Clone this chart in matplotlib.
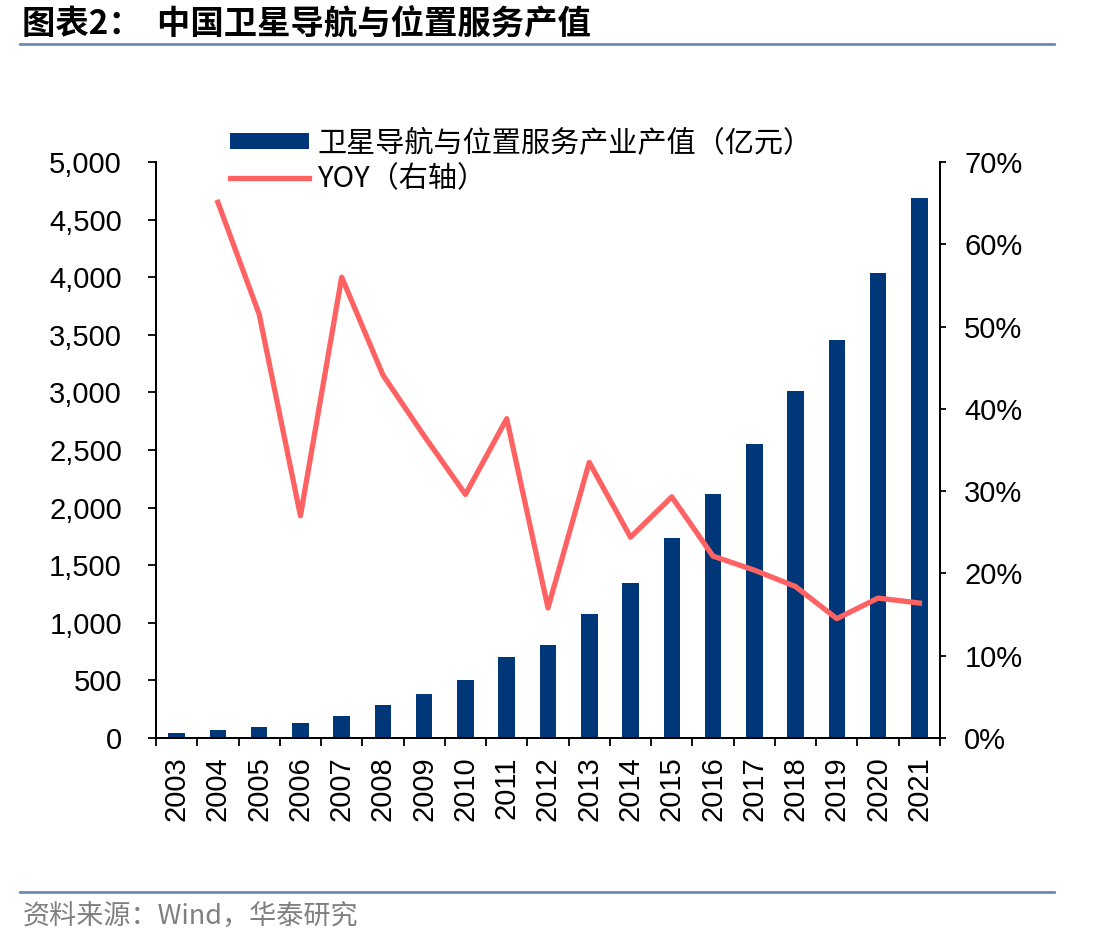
import matplotlib
matplotlib.use("Agg")
import matplotlib.pyplot as plt
from matplotlib.ticker import FuncFormatter, FixedLocator

plt.rcParams['font.family'] = ['Liberation Sans', 'Noto Sans CJK SC', 'DejaVu Sans']

years = [str(y) for y in range(2003, 2022)]
output_value = [39, 65, 97, 126, 195, 282, 386, 505, 699, 809, 1078, 1341, 1732, 2120, 2550, 3012, 3455, 4036, 4690]
yoy_years = years[1:]
yoy = [65.1, 51.5, 27.0, 56.0, 44.1, 36.7, 29.6, 38.8, 15.8, 33.5, 24.4, 29.3, 22.1, 20.4, 18.4, 14.5, 17.0, 16.4]

bar_label = "卫星导航与位置服务产业产值（亿元）"
line_label = "YOY（右轴）"
title = "图表2：  中国卫星导航与位置服务产值"
source = "资料来源：Wind，华泰研究"

bar_color = "#003778"
line_color = "#FF6262"
rule_color = "#6A8BB8"

fig = plt.figure(figsize=(11.12, 9.46), dpi=100)
ax = fig.add_axes([0.1403, 0.2199, 0.7050, 0.6089])
ax2 = ax.twinx()

x = list(range(len(years)))
bars = ax.bar(x, output_value, width=0.4, color=bar_color, label=bar_label, zorder=2)
xi = [years.index(y) for y in yoy_years]
ln, = ax2.plot(xi, yoy, color=line_color, linewidth=3.8, label=line_label, zorder=3)

ax.set_xlim(-0.5, len(years) - 0.5)
ax.set_ylim(0, 5000)
ax.set_yticks(range(0, 5001, 500))
ax.yaxis.set_major_formatter(FuncFormatter(lambda v, p: f"{int(v):,}"))
ax2.set_ylim(0, 70)
ax2.set_yticks(range(0, 71, 10))
ax2.yaxis.set_major_formatter(FuncFormatter(lambda v, p: f"{int(v)}%"))

ax.set_xticks(x)
ax.set_xticklabels(years, rotation=90, fontsize=21)
ax.tick_params(axis='x', which='major', length=0, pad=13)
ax.xaxis.set_minor_locator(FixedLocator([i - 0.5 for i in range(len(years) + 1)]))
ax.tick_params(axis='x', which='minor', length=5.5, width=1.3, direction='out')
ax.tick_params(axis='y', labelsize=21, length=5.5, width=1.3, direction='out', pad=19)
ax2.tick_params(axis='y', labelsize=21, length=4.5, width=1.3, direction='out', pad=13)

for a in (ax, ax2):
    a.spines['top'].set_visible(False)
    for s in ('left', 'right', 'bottom'):
        a.spines[s].set_linewidth(1.3)

ax2.set_zorder(ax.get_zorder() + 1)
ax2.patch.set_visible(False)

fig.legend([bars, ln], [bar_label, line_label], loc='upper left',
           bbox_to_anchor=(0.207, 0.864), frameon=False,
           handlelength=2.7, handleheight=0.48, handletextpad=0.28,
           labelspacing=0.2, borderaxespad=0, borderpad=0,
           prop={'family': ['Noto Sans CJK SC'], 'size': 21})

fig.text(0.02, 0.974, title, fontsize=24, fontweight='bold',
         family=['Noto Sans CJK SC'], va='center', ha='left')
fig.add_artist(plt.Line2D([0.018, 0.948], [0.953, 0.953], color=rule_color, linewidth=2, transform=fig.transFigure))
fig.add_artist(plt.Line2D([0.018, 0.948], [0.057, 0.057], color=rule_color, linewidth=2, transform=fig.transFigure))
fig.text(0.02, 0.030, source, fontsize=19.5, color='#808080',
         family=['Noto Sans CJK SC'], va='center', ha='left')

fig.savefig("out.png", dpi=100)
